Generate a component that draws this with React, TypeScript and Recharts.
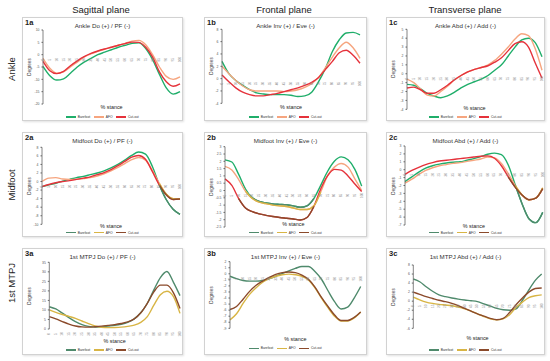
import React from 'react';
import { LineChart, Line, XAxis, YAxis, ReferenceDot } from 'recharts';

// % stance sampled every 5 %
const stance = [0, 5, 10, 15, 20, 25, 30, 35, 40, 45, 50, 55, 60, 65, 70, 75, 80, 85, 90, 95, 100];

const seriesNames = ['Barefoot', 'AFO', 'Cut-out'];
const planes = ['Sagittal plane', 'Frontal plane', 'Transverse plane'];
const joints = ['Ankle', 'Midfoot', '1st MTPJ'];

// 1a Ankle Do/PF
const bf1a = [-4.7, -8.5, -10.3, -9.8, -7.5, -5, -3, -1.5, 0, 1, 2, 3, 3.8, 4.6, 4.8, 2.5, -2, -8, -13.5, -16, -15];
const afo1a = [-1.5, -5.5, -7.5, -7, -5, -3, -1, 0.3, 1.3, 2.2, 3, 3.8, 4.6, 5.5, 5.8, 4, 0, -5, -8.8, -10, -9];
const cut1a = [-2.7, -6.5, -7.7, -6.8, -4.5, -2.5, -0.8, 0.5, 1.5, 2.3, 3, 3.8, 4.5, 5.1, 5, 3, -1, -7, -11, -12.8, -11.8];
const ticks1a = [10, 5, 0, -5, -10, -15, -20];

// 1b Ankle Inv/Eve
const bf1b = [2.8, 0.8, -0.3, -1.1, -1.8, -2.3, -2.5, -2.6, -2.6, -2.6, -2.7, -2.9, -2.8, -2.2, -0.5, 1.7, 4.4, 6.3, 7.4, 7.5, 7.1];
const afo1b = [2, 0.8, -0.3, -1.2, -1.8, -2, -2, -2, -2, -2.1, -2, -1.8, -1.4, -0.8, 0.2, 1.8, 3.5, 5, 5.9, 5, 3.3];
const cut1b = [0.6, -0.5, -1.5, -2.2, -2.6, -2.8, -2.8, -2.6, -2.4, -2.1, -1.8, -1.5, -1.1, -0.6, 0.2, 1.5, 2.8, 4.2, 4.6, 3.8, 2.5];
const ticks1b = [8, 6, 4, 2, 0, -2, -4];

// 1c Ankle Abd/Add
const bf1c = [-1.2, -1.3, -1.7, -2.2, -2.5, -2.7, -2.5, -2.1, -1.6, -1.2, -0.9, -0.6, -0.2, 0.4, 1, 2, 3, 3.8, 4, 3.5, 1.9];
const afo1c = [-0.6, -1, -1.7, -2.4, -2.5, -2, -1.4, -0.7, -0.2, 0.2, 0.5, 0.7, 1, 1.5, 2.2, 3, 3.9, 4.5, 4.3, 2.8, 0.4];
const cut1c = [-1.6, -1.5, -1.8, -2.2, -2.2, -1.8, -1.3, -0.7, -0.2, 0.2, 0.5, 0.7, 0.9, 1.3, 1.8, 2.6, 3.4, 3.6, 3, 1.2, -0.5];
const ticks1c = [5, 4, 3, 2, 1, 0, -1, -2, -3, -4];

// 2a Midfoot Do/PF
const bf2a = [-1.2, -0.8, -0.4, 0.1, 0.5, 0.9, 1.2, 1.6, 2, 2.5, 3.2, 4, 5, 6.1, 6.9, 6.4, 3.5, -0.8, -4.2, -6.5, -7.7];
const afo2a = [0, 0.8, 0.9, 0.6, 0.5, 0.5, 0.7, 0.9, 1.3, 1.8, 2.5, 3.3, 4.2, 5.1, 5.6, 5, 2.6, -0.4, -2.9, -4, -4.1];
const cut2a = [-1.2, -0.7, -0.3, 0, 0.2, 0.5, 0.8, 1.1, 1.6, 2.1, 2.8, 3.7, 4.7, 5.7, 6.1, 5.2, 2.3, -0.8, -3.1, -4.2, -4.1];
const ticks2a = [8, 6, 4, 2, 0, -2, -4, -6, -8, -10];

// 2b Midfoot Inv/Eve
const bf2b = [2.1, 1.95, 1.1, 0.1, -0.5, -0.75, -0.85, -0.92, -0.95, -0.98, -1.05, -1.15, -1.05, -0.55, 0.35, 1.3, 2, 2.3, 2.1, 1.45, 0.3];
const afo2b = [1.65, 1.4, 0.75, -0.05, -0.55, -0.8, -0.9, -1, -1.05, -1.1, -1.2, -1.3, -1.3, -1.05, -0.1, 1, 1.6, 1.85, 1.6, 0.8, 0];
const cut2b = [0.8, 0.35, -0.55, -1.2, -1.45, -1.6, -1.7, -1.78, -1.85, -1.9, -1.95, -2.02, -1.85, -1.1, 0.1, 1, 1.45, 1.4, 1, 0.45, -0.07];
const ticks2b = [3, 2.5, 2, 1.5, 1, 0.5, 0, -0.5, -1, -1.5, -2, -2.5];

// 2c Midfoot Abd/Add
const bf2c = [-1.5, -0.9, -0.3, 0.2, 0.5, 0.7, 0.85, 0.95, 1, 1.2, 1.4, 1.65, 1.95, 2.1, 1.9, 0.6, -1.9, -4.3, -6.2, -6.7, -5.4];
const afo2c = [-1.7, -1.2, -0.6, -0.1, 0.25, 0.5, 0.65, 0.8, 0.9, 1.05, 1.2, 1.35, 1.6, 1.5, 0.8, -0.5, -2, -3.2, -3.8, -3.6, -2.3];
const cut2c = [-0.6, -0.1, 0.3, 0.65, 0.9, 1.1, 1.2, 1.3, 1.4, 1.5, 1.6, 1.7, 1.75, 1.45, 0.5, -0.9, -2.2, -3.2, -3.8, -3.6, -2.4];
const ticks2c = [3, 2, 1, 0, -1, -2, -3, -4, -5, -6, -7];

// 3a 1st MTPJ Do/PF
const bf3a = [11.7, 10.5, 8.3, 6, 3.9, 2.3, 1.4, 1, 1.1, 1.5, 1.9, 2.5, 3.5, 5.3, 8.5, 13.5, 20.5, 27, 30.2, 24.5, 17.5];
const afo3a = [10, 8.7, 7.6, 6.6, 5.6, 4.2, 2.8, 1.6, 0.9, 0.7, 0.8, 1, 1.4, 2, 3.5, 6.5, 12.5, 18, 19.8, 17, 8.2];
const cut3a = [6.5, 5.3, 3.9, 2.6, 1.6, 1.1, 1, 1.2, 1.5, 1.9, 2.3, 2.9, 3.7, 5.3, 8.5, 13.5, 19.5, 23, 23, 19, 10.8];
const ticks3a = [35, 30, 25, 20, 15, 10, 5, 0];

// 3b 1st MTPJ Inv/Eve
const bf3b = [-0.4, -0.8, -1.1, -1.2, -1.2, -1.1, -0.8, -0.4, 0.05, 0.5, 0.9, 1.2, 1.2, 0.4, -0.9, -2.8, -4.6, -5.8, -5.5, -4, -2.1];
const afo3b = [-7.6, -6.6, -4.9, -3.4, -2.3, -1.4, -0.8, -0.4, -0.15, -0.05, -0.15, -0.4, -1, -2.3, -4, -5.6, -7, -7.8, -7.8, -7.3, -6.3];
const cut3b = [-5.9, -5.4, -4.2, -2.9, -1.9, -1.2, -0.6, -0.1, 0.2, 0.3, 0.2, -0.2, -0.9, -2.2, -3.9, -5.4, -6.8, -7.7, -7.7, -7.2, -6.3];
const ticks3b = [2, 1, 0, -1, -2, -3, -4, -5, -6, -7, -8, -9];

// 3c 1st MTPJ Abd/Add
const bf3c = [4.9, 4.3, 3.2, 2.2, 1.4, 1, 0.7, 0.45, 0.25, 0.1, -0.1, -0.6, -1.1, -1.6, -1.9, -2, -1.7, 0.2, 2.5, 4.6, 6];
const afo3c = [0.9, 0.3, -0.2, -0.5, -0.7, -0.85, -1, -1.3, -1.7, -2.2, -2.8, -3.4, -3.9, -4.1, -3.9, -3, -1.4, -0.2, 0.8, 1.2, 1.4];
const cut3c = [2, 1.5, 1, 0.6, 0.2, -0.1, -0.5, -1, -1.6, -2.2, -2.8, -3.3, -3.8, -4.1, -3.8, -2.5, -0.8, 0.7, 2, 2.8, 2.9];
const ticks3c = [8, 6, 4, 2, 0, -2, -4, -6];

const brightColors = ['#1fae6a', '#f6a57f', '#e5323b'];
const mutedColors = ['#4f8a6c', '#d8b545', '#8b4a2b'];

const FONT = '"Liberation Sans", Arial, sans-serif';

type PanelCfg = {
  id: string; title: string;
  box: [number, number, number, number];
  plotL: number; plotR: number; yTop: number; yBottom: number;
  ticks: number[]; series: number[][]; colors: string[]; legendColors: string[];
  stanceY: number; legendY: number;
  // part of the curves drawn in the darker palette (as in the figure)
  muted?: (x: number, v: number) => boolean;
};

const panels: PanelCfg[] = [
  { id: '1a', title: 'Ankle Do (+) / PF (-)', box: [22, 17, 161, 104], plotL: 43, plotR: 180, yTop: 30, yBottom: 104, ticks: ticks1a, series: [bf1a, afo1a, cut1a], colors: brightColors, legendColors: brightColors, stanceY: 107.5, legendY: 117 },
  { id: '1b', title: 'Ankle Inv (+) / Eve (-)', box: [204, 17, 163, 104], plotL: 222, plotR: 360, yTop: 29.3, yBottom: 103.3, ticks: ticks1b, series: [bf1b, afo1b, cut1b], colors: brightColors, legendColors: brightColors, stanceY: 107.5, legendY: 117 },
  { id: '1c', title: 'Ankle Abd (+) / Add (-)', box: [386, 17, 159, 104], plotL: 407, plotR: 542, yTop: 29.3, yBottom: 109.3, ticks: ticks1c, series: [bf1c, afo1c, cut1c], colors: brightColors, legendColors: brightColors, stanceY: 108, legendY: 117 },
  { id: '2a', title: 'Midfoot Do (+) / PF (-)', box: [22, 132, 161, 105], plotL: 42, plotR: 180, yTop: 147.3, yBottom: 224.3, ticks: ticks2a, series: [bf2a, afo2a, cut2a], colors: brightColors, legendColors: mutedColors, stanceY: 226.7, legendY: 232.5, muted: (x, v) => x >= 80 && v < 1 },
  { id: '2b', title: 'Midfoot Inv (+) / Eve (-)', box: [204, 132, 163, 105], plotL: 225, plotR: 361.7, yTop: 146.7, yBottom: 227, ticks: ticks2b, series: [bf2b, afo2b, cut2b], colors: brightColors, legendColors: mutedColors, stanceY: 224.3, legendY: 232.5, muted: (x, v) => x <= 70 && v < 0 },
  { id: '2c', title: 'Midfoot Abd (+) / Add (-)', box: [386, 132, 159, 105], plotL: 405, plotR: 542.7, yTop: 146, yBottom: 225, ticks: ticks2c, series: [bf2c, afo2c, cut2c], colors: brightColors, legendColors: mutedColors, stanceY: 226.7, legendY: 232.5, muted: (x, v) => x >= 75 && v < -0.5 },
  { id: '3a', title: '1st MTPJ Do (+) / PF (-)', box: [22, 248, 161, 107], plotL: 49.3, plotR: 180, yTop: 262.3, yBottom: 329, ticks: ticks3a, series: [bf3a, afo3a, cut3a], colors: mutedColors, legendColors: mutedColors, stanceY: 341.7, legendY: 350 },
  { id: '3b', title: '1st MTPJ Inv (+) / Eve (-)', box: [204, 248, 163, 107], plotL: 230, plotR: 360.7, yTop: 261.7, yBottom: 328.3, ticks: ticks3b, series: [bf3b, afo3b, cut3b], colors: mutedColors, legendColors: mutedColors, stanceY: 339, legendY: 348.3 },
  { id: '3c', title: '1st MTPJ Abd (+) / Add (-)', box: [386, 248, 159, 107], plotL: 413.3, plotR: 541.7, yTop: 265, yBottom: 328.3, ticks: ticks3c, series: [bf3c, afo3c, cut3c], colors: mutedColors, legendColors: mutedColors, stanceY: 338.3, legendY: 350 },
];

const Panel: React.FC<{ p: PanelCfg }> = ({ p }) => {
  const [bx, by, bw, bh] = p.box;
  const keys = ['b', 'a', 'c'];
  const data = stance.map((s, i) => {
    const row: any = { x: s };
    keys.forEach((k, j) => {
      const v = p.series[j][i];
      row[k] = v;
      row[k + 'm'] = p.muted && p.muted(s, v) ? v : null;
    });
    return row;
  });
  const yMax = p.ticks[0];
  const yMin = p.ticks[p.ticks.length - 1];
  const zeroY = yMin > 0 ? yMin : 0;
  const plotMid = (p.plotL + p.plotR) / 2 - bx;

  return (
    <div style={{ position: 'absolute', left: bx, top: by, width: bw, height: bh }}>
      <div style={{ position: 'absolute', inset: 0, border: '1px solid #d2d2d2', boxShadow: '1px 1px 2px rgba(0,0,0,0.12)', boxSizing: 'border-box', background: '#fff' }} />
      <div style={{ position: 'absolute', left: 3, top: 1, fontSize: 7.5, fontWeight: 'bold', color: '#222' }}>{p.id}</div>
      <div style={{ position: 'absolute', left: 0, width: bw, top: 4.5, textAlign: 'center', fontSize: 6.2, color: '#333' }}>{p.title}</div>
      <div style={{ position: 'absolute', left: 7, top: (p.yTop + p.yBottom) / 2 - by, transform: 'translate(-50%, -50%) rotate(-90deg)', fontSize: 4.6, color: '#333', whiteSpace: 'nowrap' }}>Degrees</div>
      <div style={{ position: 'absolute', left: plotMid - 30, width: 60, top: p.stanceY - by - 3.5, textAlign: 'center', fontSize: 5.4, color: '#222' }}>% stance</div>
      <div style={{ position: 'absolute', left: 0, width: bw, top: p.legendY - by - 2, height: 4, display: 'flex', justifyContent: 'center', alignItems: 'center', gap: 4 }}>
        {seriesNames.map((n, i) => (
          <div key={n} style={{ display: 'flex', alignItems: 'center', gap: 1.5 }}>
            <div style={{ width: 10, height: 1.5, background: p.legendColors[i] }} />
            <span style={{ fontSize: 3.3, color: '#333' }}>{n}</span>
          </div>
        ))}
      </div>
      <div style={{ position: 'absolute', left: 0, top: 0 }}>
        <LineChart width={bw} height={bh} data={data}
          margin={{ top: p.yTop - by, bottom: by + bh - p.yBottom, left: 0, right: bx + bw - p.plotR }}>
          <XAxis dataKey="x" type="number" domain={[0, 100]} hide />
          <YAxis type="number" domain={[yMin, yMax]} ticks={p.ticks} interval={0} width={p.plotL - bx}
            tick={{ fontSize: 3.4, fill: '#555' }} tickSize={1.5} tickLine={{ stroke: '#666' }}
            axisLine={{ stroke: '#666', strokeWidth: 0.8 }} allowDataOverflow />
          {stance.map(s => (
            <ReferenceDot key={s} x={s} y={zeroY} r={0} ifOverflow="visible"
              shape={(d: any) => (
                <text x={d.cx} y={d.cy + 5} transform={`rotate(-90 ${d.cx} ${d.cy + 5})`}
                  textAnchor="middle" dominantBaseline="central" fontSize={3.1} fill="#8c8c8c">{s}</text>
              )} />
          ))}
          {keys.map((k, i) => (
            <Line key={k} dataKey={k} type="monotone" stroke={p.colors[i]} strokeWidth={1.4}
              dot={false} isAnimationActive={false} />
          ))}
          {p.muted && keys.map((k, i) => (
            <Line key={k + 'm'} dataKey={k + 'm'} type="monotone" stroke={mutedColors[i]} strokeWidth={1.4}
              dot={false} isAnimationActive={false} connectNulls={false} legendType="none" />
          ))}
        </LineChart>
      </div>
    </div>
  );
};

export default function App() {
  const colX = [101, 284, 465];
  const rowY = [69, 185, 283];
  return (
    <div style={{ position: 'absolute', left: 0, top: 0, width: 550, height: 361, background: '#fff', fontFamily: FONT, overflow: 'hidden' }}>
      {planes.map((t, i) => (
        <div key={t} style={{ position: 'absolute', left: colX[i] - 50, width: 100, top: 4, textAlign: 'center', fontSize: 9.5, color: '#222' }}>{t}</div>
      ))}
      {joints.map((t, i) => (
        <div key={t} style={{ position: 'absolute', left: 11, top: rowY[i], transform: 'translate(-50%, -50%) rotate(-90deg)', fontSize: 9.5, color: '#222', whiteSpace: 'nowrap' }}>{t}</div>
      ))}
      {panels.map(p => <Panel key={p.id} p={p} />)}
    </div>
  );
}
